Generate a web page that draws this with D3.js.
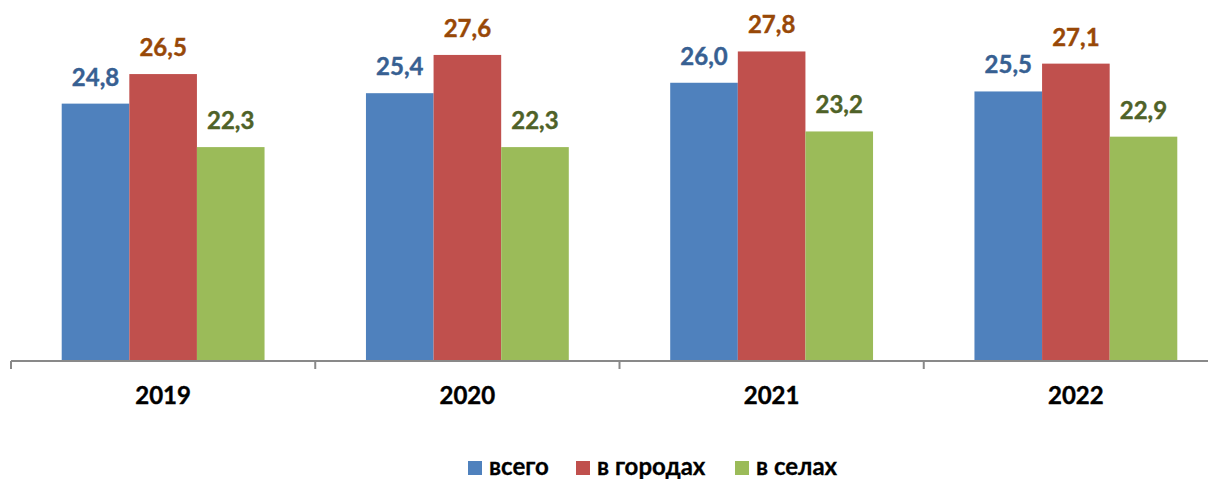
<!DOCTYPE html>
<html><head><meta charset="utf-8">
<script src="https://cdn.jsdelivr.net/npm/d3@7"></script>
<style>
html,body{margin:0;padding:0;background:#fff;}
svg{display:block;font-family:Lato,"Open Sans",sans-serif;}
</style></head>
<body><svg id="c" width="1208" height="479"></svg>
<script>
const years = ["2019","2020","2021","2022"];
const seriesNames = ["всего","в городах","в селах"];
const vsego = [24.8, 25.4, 26.0, 25.5];
const vGorodah = [26.5, 27.6, 27.8, 27.1];
const vSelah = [22.3, 22.3, 23.2, 22.9];
const labelsText = [
  ["24,8","25,4","26,0","25,5"],
  ["26,5","27,6","27,8","27,1"],
  ["22,3","22,3","23,2","22,9"]
];
const barColors = ["#4F81BD","#C0504D","#9BBB59"];
const labelColors = ["#376092","#984807","#4F6228"];
const series = [vsego, vGorodah, vSelah];

const svg = d3.select("#c");
const baseY = 361;
const x = d3.scaleBand().domain(years).range([11, 1228]).paddingInner(0).paddingOuter(0);
const xs = d3.scaleBand().domain(d3.range(3)).range([0, x.bandwidth()]).paddingInner(0).paddingOuter(0.75);
const y = d3.scaleLinear().domain([10, 30]).range([baseY, 13.2]);

const data = [];
years.forEach((yr, i) => series.forEach((s, j) => data.push({yr, j, v: s[i], t: labelsText[j][i]})));

svg.append("g").selectAll("rect").data(data).join("rect")
  .attr("x", d => x(d.yr) + xs(d.j))
  .attr("y", d => y(d.v))
  .attr("width", xs.bandwidth())
  .attr("height", d => baseY - y(d.v))
  .attr("fill", d => barColors[d.j]);

svg.append("g").selectAll("text").data(data).join("text")
  .attr("x", d => x(d.yr) + xs(d.j) + xs.bandwidth()/2)
  .attr("y", d => y(d.v) - 18)
  .attr("text-anchor", "middle")
  .attr("font-weight", "bold")
  .attr("font-size", 24)
  .attr("fill", d => labelColors[d.j])
  .attr("stroke", d => labelColors[d.j]).attr("stroke-width", 0.4)
  .text(d => d.t);

// axis
const ax = svg.append("g");
ax.append("line").attr("x1", x.range()[0]).attr("x2", x.range()[1])
  .attr("y1", baseY).attr("y2", baseY).attr("stroke", "#898989").attr("stroke-width", 2);
const tickPos = years.map(d => x(d)).concat([x.range()[1]]);
ax.selectAll("line.t").data(tickPos).join("line").attr("class","t")
  .attr("x1", d => d).attr("x2", d => d).attr("y1", baseY).attr("y2", baseY + 8)
  .attr("stroke", "#898989").attr("stroke-width", 2);
ax.selectAll("text").data(years).join("text")
  .attr("x", d => x(d) + x.bandwidth()/2)
  .attr("y", 404)
  .attr("text-anchor", "middle")
  .attr("font-weight", "bold").attr("font-size", 24).attr("fill", "#000")
  .attr("stroke", "#000").attr("stroke-width", 0.4)
  .text(d => d);

// legend
const legendX = [468, 576, 735];
const lg = svg.append("g");
seriesNames.forEach((n, j) => {
  lg.append("rect").attr("x", legendX[j]).attr("y", 461).attr("width", 14).attr("height", 14).attr("fill", barColors[j]);
  lg.append("text").attr("x", legendX[j] + 21).attr("y", 475)
    .attr("font-weight", "bold").attr("font-size", 24).attr("fill", "#000")
    .attr("stroke", "#000").attr("stroke-width", 0.3).text(n);
});
</script></body></html>
